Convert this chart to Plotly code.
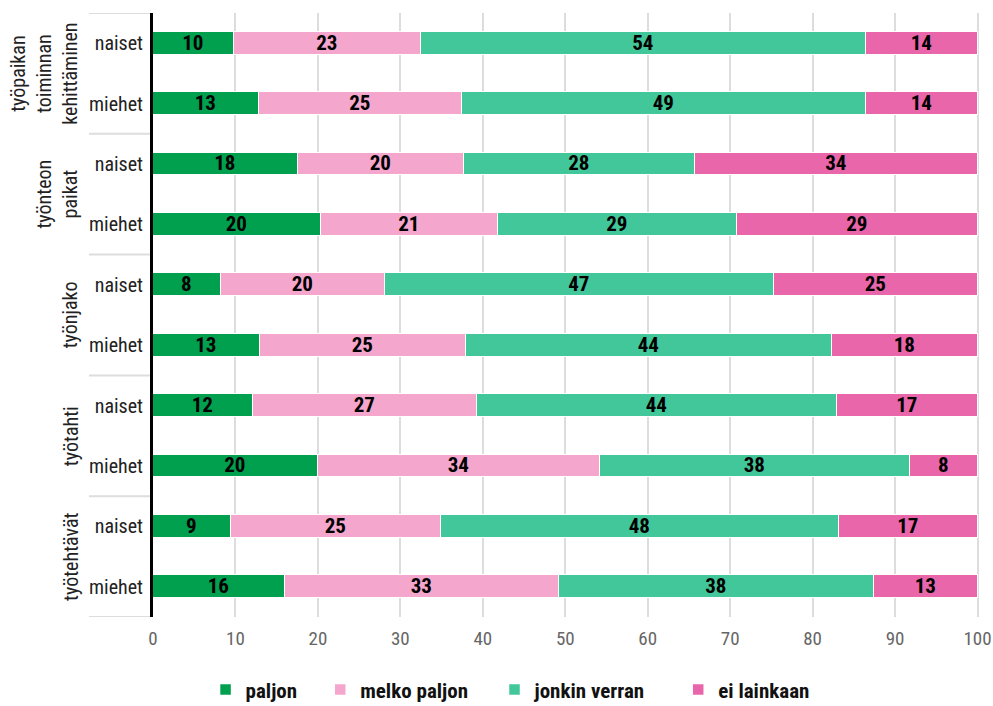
import plotly.graph_objects as go

groups = ["työpaikan<br>toiminnan<br>kehittäminen", "työnteon<br>paikat", "työnjako", "työtahti", "työtehtävät"]
genders = ["naiset", "miehet"]

series = ["paljon", "melko paljon", "jonkin verran", "ei lainkaan"]
colors = ["#00a04e", "#f4a6cd", "#42c79a", "#e966ab"]

# bar lengths, rows top to bottom
paljon = [9.8, 12.9, 17.6, 20.4, 8.2, 13.0, 12.1, 20.0, 9.5, 16.0]
melko_paljon = [22.7, 24.6, 20.1, 21.4, 19.9, 25.0, 27.2, 34.2, 25.4, 33.3]
jonkin_verran = [54.0, 49.0, 28.0, 29.0, 47.2, 44.3, 43.7, 37.6, 48.3, 38.2]
ei_lainkaan = [13.5, 13.5, 34.3, 29.2, 24.7, 17.7, 17.0, 8.2, 16.8, 12.5]

# printed labels
lab_paljon = [10, 13, 18, 20, 8, 13, 12, 20, 9, 16]
lab_melko = [23, 25, 20, 21, 20, 25, 27, 34, 25, 33]
lab_jonkin = [54, 49, 28, 29, 47, 44, 44, 38, 48, 38]
lab_ei = [14, 14, 34, 29, 25, 18, 17, 8, 17, 13]

x_ticks = [0, 10, 20, 30, 40, 50, 60, 70, 80, 90, 100]

FONT = "Noto Sans Condensed, Roboto Condensed, Liberation Sans Narrow, DejaVu Sans Condensed, Roboto, sans-serif"

rows = list(range(len(groups) * len(genders)))
row_labels = [g for _ in groups for g in genders]

values = [paljon, melko_paljon, jonkin_verran, ei_lainkaan]
labels = [lab_paljon, lab_melko, lab_jonkin, lab_ei]
legend_ids = ["legend", "legend2", "legend3", "legend4"]
legend_x = [0.207, 0.3225, 0.498, 0.683]

fig = go.Figure()
for name, col, v, lab, lid in zip(series, colors, values, labels, legend_ids):
    fig.add_trace(go.Bar(
        y=rows, x=v, orientation="h", name=name,
        marker=dict(color=col, line=dict(color="white", width=1.5)),
        width=0.375,
        text=[str(t) for t in lab], textposition="inside", insidetextanchor="middle",
        textangle=0,
        textfont=dict(family=FONT, size=21, color="black", weight="bold"),
        hoverinfo="skip", legend=lid, showlegend=True,
    ))

shapes = []
n_per = len(genders)
for k in range(len(groups) + 1):
    yb = k * n_per - 0.5
    shapes.append(dict(type="line", xref="paper", yref="y", x0=-0.0774, x1=-0.003,
                       y0=yb, y1=yb, line=dict(color="#dddddd", width=2), layer="below"))

annotations = []
for k, gname in enumerate(groups):
    annotations.append(dict(
        text=gname, xref="paper", yref="y", x=-0.083, y=k * n_per + (n_per - 1) / 2,
        xanchor="right", yanchor="middle", textangle=-90, showarrow=False,
        font=dict(family=FONT, size=20, color="#222222"), align="center",
    ))

legend_style = dict(orientation="h", xref="container", yref="container",
                    xanchor="left", y=0.023, yanchor="middle",
                    font=dict(family=FONT, size=21, color="#111111", weight="bold"))

fig.update_layout(
    barmode="stack",
    width=993, height=706,
    margin=dict(l=153, r=13, t=13, b=89),
    plot_bgcolor="white", paper_bgcolor="white",
    font=dict(family=FONT, size=19, color="#333333"),
    uniformtext=dict(minsize=21, mode="show"),
    showlegend=True,
    xaxis=dict(range=[0, 100.3], tickvals=x_ticks, showgrid=True, gridcolor="#dddddd", gridwidth=2,
               zeroline=False, showline=False, tickfont=dict(color="#666666", size=19),
               ticklabelstandoff=8, fixedrange=True, automargin=False),
    yaxis=dict(range=[9.5, -0.5], tickvals=rows, ticktext=row_labels, showgrid=False,
               zeroline=False, showline=True, linecolor="black", linewidth=3,
               tickfont=dict(color="#222222", size=20), ticklabelstandoff=3, automargin=False),
    shapes=shapes,
    annotations=annotations,
    legend=dict(x=legend_x[0], **legend_style),
    legend2=dict(x=legend_x[1], **legend_style),
    legend3=dict(x=legend_x[2], **legend_style),
    legend4=dict(x=legend_x[3], **legend_style),
    bargap=0,
)

fig.write_html("out.html", config={"displayModeBar": False},
               post_script="document.body.style.margin='0';document.body.style.overflow='hidden';")
